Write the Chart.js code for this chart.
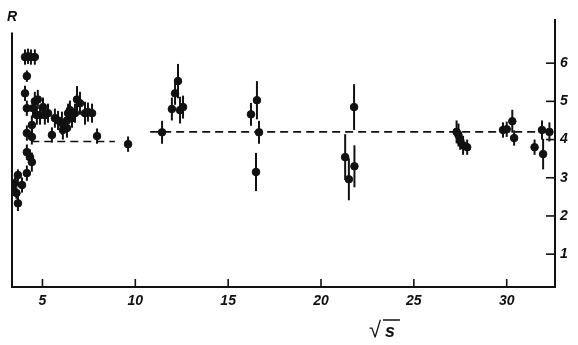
<!DOCTYPE html>
<html>
<head>
<meta charset="utf-8">
<script src="https://cdn.jsdelivr.net/npm/chart.js@4"></script>
<style>
  html, body { margin: 0; padding: 0; background: #fff; }
</style>
</head>
<body>
<canvas id="rChart" width="578" height="345"></canvas>
<script>
// measured points: sqrt(s), R and half-length of the error bar
const sqrtS = [3.41, 3.52, 3.6, 3.68, 3.68, 3.9, 4.16, 4.16, 4.33, 4.43, 4.16, 4.43,
  4.06, 4.22, 4.38, 4.59, 4.16, 4.06, 4.16, 4.43, 4.49, 4.59, 4.7, 4.75, 4.87, 5.03,
  5.13, 5.3, 5.51, 5.67, 5.84, 6.05, 6.1, 6.32, 6.38, 6.48, 6.32, 6.59, 6.75, 6.86,
  7.02, 7.29, 7.45, 7.67, 7.94, 9.61,
  11.44, 11.97, 12.14, 12.3, 12.41, 12.57,
  16.23, 16.55, 16.66, 16.5,
  21.3, 21.5, 21.8, 21.78,
  27.3, 27.4, 27.5, 27.65, 27.87,
  29.8, 30.0, 30.3, 30.4, 31.5, 31.9, 31.96, 32.3];
const ratioR = [2.68, 2.86, 2.6, 3.07, 2.33, 2.81, 3.12, 3.67, 3.54, 3.41, 4.17, 4.07,
  6.16, 6.18, 6.16, 6.16, 5.66, 5.21, 4.82, 4.38, 4.82, 5.0, 4.64, 5.05, 4.64, 4.85,
  4.64, 4.69, 4.12, 4.56, 4.5, 4.43, 4.25, 4.5, 4.69, 4.77, 4.3, 4.56, 4.69, 5.05,
  4.95, 4.69, 4.72, 4.69, 4.09, 3.88,
  4.19, 4.8, 5.21, 5.53, 4.77, 4.85,
  4.66, 5.03, 4.19, 3.15,
  3.54, 2.96, 3.3, 4.85,
  4.2, 4.12, 3.98, 3.85, 3.8,
  4.25, 4.27, 4.48, 4.04, 3.8, 4.25, 3.62, 4.2];
const errR = [0.15, 0.15, 0.15, 0.15, 0.2, 0.2, 0.2, 0.2, 0.2, 0.25, 0.2, 0.2,
  0.2, 0.2, 0.2, 0.2, 0.15, 0.2, 0.2, 0.25, 0.25, 0.25, 0.25, 0.25, 0.25, 0.25,
  0.25, 0.25, 0.2, 0.25, 0.25, 0.3, 0.25, 0.25, 0.25, 0.25, 0.25, 0.25, 0.25, 0.35,
  0.3, 0.3, 0.25, 0.25, 0.2, 0.2,
  0.3, 0.3, 0.3, 0.45, 0.35, 0.3,
  0.3, 0.5, 0.3, 0.5,
  0.6, 0.55, 0.55, 0.6,
  0.3, 0.3, 0.25, 0.25, 0.2,
  0.2, 0.2, 0.3, 0.2, 0.2, 0.25, 0.4, 0.25];

// dashed plateau levels
const lowLevelX = [4.4, 8.9];
const lowLevelR = 3.95;
const highLevelX = [10.8, 32.3];
const highLevelR = 4.2;

const xTicks = [5, 10, 15, 20, 25, 30];
const yTicks = [1, 2, 3, 4, 5, 6];

const ink = '#111';

const errorBars = {
  id: 'errorBars',
  beforeDatasetsDraw(chart) {
    const { ctx, scales: { x, y } } = chart;
    ctx.save();
    ctx.strokeStyle = ink;
    ctx.lineWidth = 2;
    sqrtS.forEach((s, i) => {
      const px = x.getPixelForValue(s);
      ctx.beginPath();
      ctx.moveTo(px, y.getPixelForValue(ratioR[i] - errR[i]));
      ctx.lineTo(px, y.getPixelForValue(ratioR[i] + errR[i]));
      ctx.stroke();
    });
    ctx.restore();
  }
};

// inward tick marks, left axis and the two axis names
const frame = {
  id: 'frame',
  afterDraw(chart) {
    const { ctx, chartArea: a, scales: { x, y } } = chart;
    ctx.save();
    ctx.strokeStyle = ink;
    ctx.lineWidth = 1.6;
    xTicks.forEach(v => {
      const px = x.getPixelForValue(v);
      ctx.beginPath();
      ctx.moveTo(px, a.bottom);
      ctx.lineTo(px, a.bottom - 8);
      ctx.stroke();
    });
    yTicks.forEach(v => {
      const py = y.getPixelForValue(v);
      ctx.beginPath();
      ctx.moveTo(a.right, py);
      ctx.lineTo(a.right - 9, py);
      ctx.stroke();
    });
    ctx.lineWidth = 2;
    ctx.beginPath();
    ctx.moveTo(a.left, y.getPixelForValue(6.8));
    ctx.lineTo(a.left, a.bottom + 1);
    ctx.stroke();

    ctx.fillStyle = ink;
    ctx.textAlign = 'left';
    ctx.textBaseline = 'alphabetic';
    ctx.font = 'italic bold 14px "Liberation Sans"';
    ctx.fillText('R', 7, 21);
    ctx.font = 'italic 22px "Liberation Sans"';
    ctx.fillText('√', 369, 337);
    ctx.font = 'italic bold 18px "Liberation Sans"';
    ctx.fillText('s', 385, 337);
    ctx.lineWidth = 1.5;
    ctx.beginPath();
    ctx.moveTo(383, 320);
    ctx.lineTo(400, 320);
    ctx.stroke();
    ctx.restore();
  }
};

new Chart(document.getElementById('rChart'), {
  type: 'scatter',
  data: {
    datasets: [
      {
        label: 'R',
        data: sqrtS.map((s, i) => ({ x: s, y: ratioR[i] })),
        backgroundColor: ink,
        borderColor: ink,
        pointRadius: 3.8,
        pointHoverRadius: 3.8
      },
      {
        type: 'line',
        label: 'low',
        data: lowLevelX.map(s => ({ x: s, y: lowLevelR })),
        borderColor: ink,
        borderWidth: 1.6,
        borderDash: [8, 5],
        pointRadius: 0
      },
      {
        type: 'line',
        label: 'high',
        data: highLevelX.map(s => ({ x: s, y: highLevelR })),
        borderColor: ink,
        borderWidth: 1.6,
        borderDash: [8, 5],
        pointRadius: 0
      }
    ]
  },
  options: {
    responsive: false,
    animation: false,
    layout: { padding: { left: 12, top: 20 } },
    plugins: {
      legend: { display: false },
      tooltip: { enabled: false }
    },
    scales: {
      x: {
        type: 'linear',
        position: 'bottom',
        min: 3.36,
        max: 32.6,
        afterBuildTicks: s => { s.ticks = xTicks.map(v => ({ value: v })); },
        afterFit: s => { s.height = 58; },
        grid: { display: false, drawTicks: false },
        border: { display: true, color: ink, width: 2 },
        ticks: {
          color: ink,
          padding: 6,
          maxRotation: 0,
          font: { family: 'Liberation Sans', size: 14, style: 'italic', weight: '600' }
        }
      },
      y: {
        type: 'linear',
        position: 'right',
        min: 0.14,
        max: 7.13,
        afterBuildTicks: s => { s.ticks = yTicks.map(v => ({ value: v })); },
        afterFit: s => { s.width = 23; },
        grid: { display: false, drawTicks: false },
        border: { display: true, color: ink, width: 2 },
        ticks: {
          color: ink,
          padding: 5,
          font: { family: 'Liberation Sans', size: 14, style: 'italic', weight: '600' }
        }
      }
    }
  },
  plugins: [errorBars, frame]
});
</script>
</body>
</html>
